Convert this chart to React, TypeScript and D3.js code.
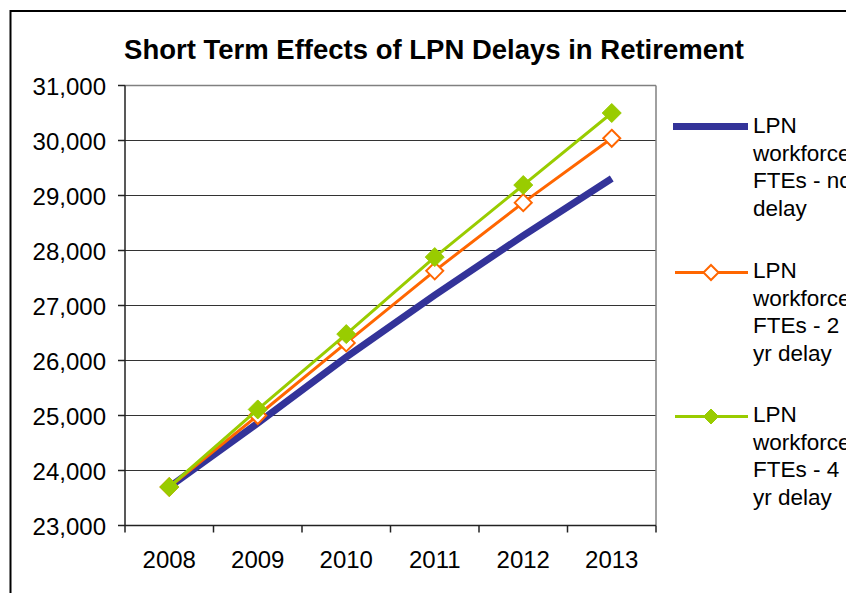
import React from "react";
import * as d3 from "d3";

const years = ["2008", "2009", "2010", "2011", "2012", "2013"];
const noDelay = [23700, 24860, 26060, 27190, 28270, 29310];
const twoYrDelay = [23700, 25000, 26320, 27630, 28870, 30040];
const fourYrDelay = [23700, 25110, 26480, 27880, 29190, 30500];
const yTicks = [23000, 24000, 25000, 26000, 27000, 28000, 29000, 30000, 31000];
const legendLabels = [
  ["LPN", "workforce", "FTEs - no", "delay"],
  ["LPN", "workforce", "FTEs - 2", "yr delay"],
  ["LPN", "workforce", "FTEs - 4", "yr delay"],
];
const title = "Short Term Effects of LPN Delays in Retirement";

const FONT = "'Liberation Sans', Arial, sans-serif";

export default function App() {
  const left = 125, right = 656, top = 85.5, bottom = 525.5;
  const x = d3.scaleBand<string>().domain(years).range([left, right]).padding(0);
  const y = d3.scaleLinear().domain([23000, 31000]).range([bottom, top]);
  const cx = (yr: string) => (x(yr) as number) + x.bandwidth() / 2;
  const line = d3
    .line<number>()
    .x((_, i) => cx(years[i]))
    .y((d) => y(d));

  const diamond = (px: number, py: number, r: number) =>
    `M${px},${py - r}L${px + r},${py}L${px},${py + r}L${px - r},${py}Z`;

  const boundaries = years.map((yr) => x(yr) as number).concat([right]);

  const legendY = [126.5, 272.5, 416.5];
  const legendTextY = [133, 278, 422];
  const lineGap = 27.5;

  return (
    <svg
      width={846}
      height={593}
      style={{ position: "absolute", left: 0, top: 0, background: "#fff" }}
      fontFamily={FONT}
    >
      <rect x={0} y={0} width={846} height={593} fill="#fff" />
      <rect x={10.5} y={11} width={900} height={700} fill="none" stroke="#000" strokeWidth={2} />
      <text x={434} y={59} textAnchor="middle" fontSize={27.5} fontWeight="bold" fill="#000">
        {title}
      </text>

      {/* gridlines */}
      {yTicks.map((t) => (
        <line key={"g" + t} x1={left} x2={right} y1={y(t)} y2={y(t)} stroke="#333" strokeWidth={1} />
      ))}
      {/* plot border */}
      <line x1={left} x2={right} y1={top} y2={top} stroke="#808080" strokeWidth={1.5} />
      <line x1={right} x2={right} y1={top} y2={bottom} stroke="#808080" strokeWidth={1.5} />
      {/* axes */}
      <line x1={left} x2={left} y1={top} y2={bottom} stroke="#222" strokeWidth={1.5} />
      <line x1={left} x2={right} y1={bottom} y2={bottom} stroke="#222" strokeWidth={1.5} />
      {yTicks.map((t) => (
        <g key={"yt" + t}>
          <line x1={left - 7} x2={left} y1={y(t)} y2={y(t)} stroke="#222" strokeWidth={1.5} />
          <text x={106} y={y(t) + 9} textAnchor="end" fontSize={24} fill="#000">
            {d3.format(",")(t)}
          </text>
        </g>
      ))}
      {boundaries.map((b, i) => (
        <line key={"xt" + i} x1={b} x2={b} y1={bottom} y2={bottom + 7} stroke="#222" strokeWidth={1.5} />
      ))}
      {years.map((yr) => (
        <text key={"xl" + yr} x={cx(yr)} y={568} textAnchor="middle" fontSize={24} fill="#000">
          {yr}
        </text>
      ))}

      {/* series */}
      <path d={line(noDelay) as string} fill="none" stroke="#333399" strokeWidth={7} />
      <path d={line(twoYrDelay) as string} fill="none" stroke="#FF6600" strokeWidth={3} />
      {twoYrDelay.map((v, i) => (
        <path key={"o" + i} d={diamond(cx(years[i]), y(v), 8.5)} fill="#fff" stroke="#FF6600" strokeWidth={2} />
      ))}
      <path d={line(fourYrDelay) as string} fill="none" stroke="#99CC00" strokeWidth={3} />
      {fourYrDelay.map((v, i) => (
        <path key={"gr" + i} d={diamond(cx(years[i]), y(v), 9.5)} fill="#99CC00" stroke="#99CC00" strokeWidth={1} />
      ))}

      {/* legend */}
      <line x1={673} x2={748} y1={legendY[0]} y2={legendY[0]} stroke="#333399" strokeWidth={7} />
      <line x1={675} x2={748} y1={legendY[1]} y2={legendY[1]} stroke="#FF6600" strokeWidth={3} />
      <path d={diamond(711, legendY[1], 7.5)} fill="#fff" stroke="#FF6600" strokeWidth={2} />
      <line x1={675} x2={748} y1={legendY[2]} y2={legendY[2]} stroke="#99CC00" strokeWidth={3} />
      <path d={diamond(711, legendY[2], 7.5)} fill="#99CC00" stroke="#99CC00" strokeWidth={1} />
      {legendLabels.map((lines, gi) =>
        lines.map((s, li) => (
          <text key={"lt" + gi + li} x={753} y={legendTextY[gi] + li * lineGap} fontSize={22.5} fill="#000">
            {s}
          </text>
        ))
      )}
    </svg>
  );
}
